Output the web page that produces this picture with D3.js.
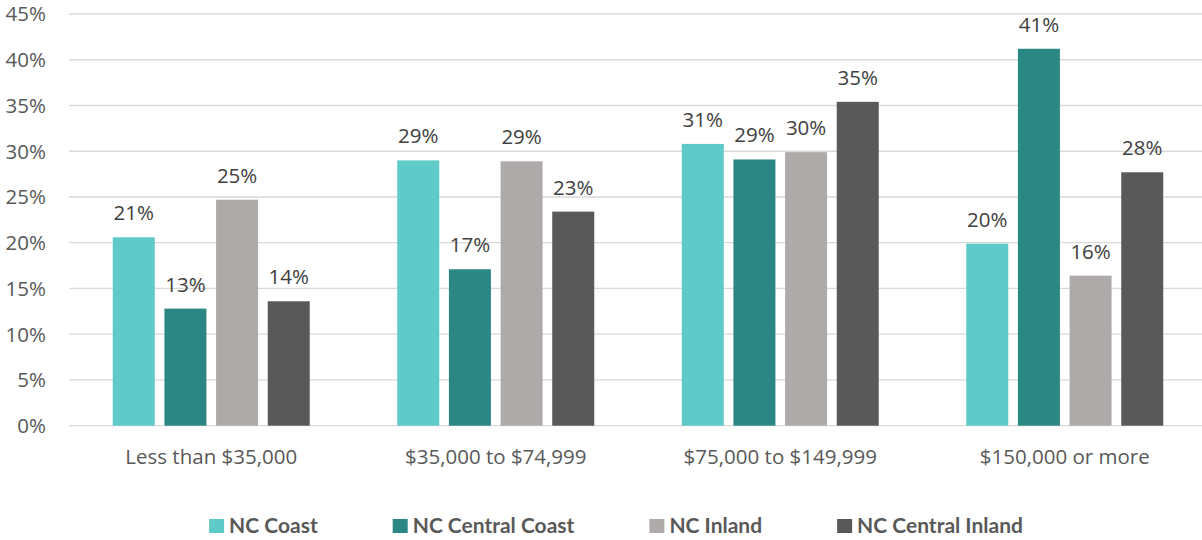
<!DOCTYPE html>
<html>
<head>
<meta charset="utf-8">
<script src="https://cdn.jsdelivr.net/npm/d3@7"></script>
<style>
  body { margin: 0; background: #fff; }
  svg { display: block; font-family: "Open Sans", Lato, sans-serif; }
</style>
</head>
<body>
<div id="chart"></div>
<script>
(function(d3) {
  'use strict';

  var categories = ['Less than $35,000', '$35,000 to $74,999', '$75,000 to $149,999', '$150,000 or more'];
  var seriesNames = ['NC Coast', 'NC Central Coast', 'NC Inland', 'NC Central Inland'];
  var ncCoast = [20.6, 29.0, 30.8, 19.9];
  var ncCentralCoast = [12.8, 17.1, 29.1, 41.2];
  var ncInland = [24.7, 28.9, 29.9, 16.4];
  var ncCentralInland = [13.6, 23.4, 35.4, 27.7];
  var yTicks = [0, 5, 10, 15, 20, 25, 30, 35, 40, 45];

  var colors = ['#5ecbc8', '#2a8783', '#aeaaaa', '#595959'];

  var width = 1202;
  var height = 540;
  var fontSize = '20.5px';

  var values = [ncCoast, ncCentralCoast, ncInland, ncCentralInland];
  var data = categories.map(function(c, i) {
    return {
      label: c,
      bars: seriesNames.map(function(s, j) { return { series: s, value: values[j][i] }; })
    };
  });

  var x0 = d3.scaleBand()
    .domain(categories)
    .range([69, 1207])
    .paddingInner(0.3076)
    .paddingOuter(0.1538);

  var x1 = d3.scaleBand()
    .domain(seriesNames)
    .range([0, x0.bandwidth()])
    .paddingInner(0.187);

  var y = d3.scaleLinear()
    .domain([0, 45])
    .range([425.7, 14]);

  var color = d3.scaleOrdinal()
    .domain(seriesNames)
    .range(colors);

  var svg = d3.select('#chart')
    .append('svg')
    .attr('width', width)
    .attr('height', height);

  // gridlines
  svg.append('g')
    .selectAll('line')
    .data(yTicks)
    .enter().append('line')
      .attr('x1', 69)
      .attr('x2', width)
      .attr('y1', function(d) { return y(d); })
      .attr('y2', function(d) { return y(d); })
      .attr('stroke', '#d9d9d9')
      .attr('stroke-width', 1.3);

  // y axis labels
  svg.append('g')
    .selectAll('text')
    .data(yTicks)
    .enter().append('text')
      .attr('x', 46)
      .attr('y', function(d) { return y(d); })
      .attr('dy', '0.36em')
      .attr('text-anchor', 'end')
      .attr('font-size', fontSize)
      .attr('fill', '#595959')
      .text(function(d) { return d + '%'; });

  var groups = svg.append('g')
    .selectAll('g')
    .data(data)
    .enter().append('g')
      .attr('transform', function(d) { return 'translate(' + x0(d.label) + ',0)'; });

  groups.selectAll('rect')
    .data(function(d) { return d.bars; })
    .enter().append('rect')
      .attr('x', function(d) { return x1(d.series); })
      .attr('y', function(d) { return y(d.value); })
      .attr('width', x1.bandwidth())
      .attr('height', function(d) { return y(0) - y(d.value); })
      .attr('fill', function(d) { return color(d.series); });

  groups.selectAll('text')
    .data(function(d) { return d.bars; })
    .enter().append('text')
      .attr('x', function(d) { return x1(d.series) + x1.bandwidth() / 2; })
      .attr('y', function(d) { return y(d.value) - 17; })
      .attr('text-anchor', 'middle')
      .attr('font-size', fontSize)
      .attr('fill', '#404040')
      .text(function(d) { return Math.round(d.value) + '%'; });

  // category labels
  svg.append('g')
    .selectAll('text')
    .data(categories)
    .enter().append('text')
      .attr('x', function(d) { return x0(d) + x0.bandwidth() / 2; })
      .attr('y', 464)
      .attr('text-anchor', 'middle')
      .attr('font-size', fontSize)
      .attr('fill', '#595959')
      .text(function(d) { return d; });

  // legend
  var legend = svg.append('g');
  var items = legend.selectAll('g')
    .data(seriesNames)
    .enter().append('g');

  items.append('rect')
    .attr('y', 519)
    .attr('width', 15)
    .attr('height', 14)
    .attr('fill', function(d) { return color(d); });

  items.append('text')
    .attr('x', 20)
    .attr('y', 533)
    .attr('font-family', 'Lato, sans-serif')
    .attr('font-size', '21px')
    .attr('font-weight', 'bold')
    .attr('fill', '#595959')
    .text(function(d) { return d; });

  var gap = 75;
  var pos = 0;
  var offsets = [];
  items.each(function() {
    var w = 20 + d3.select(this).select('text').node().getComputedTextLength();
    offsets.push(pos);
    pos += w + gap;
  });
  var total = pos - gap;
  var start = 616 - total / 2;
  items.attr('transform', function(d, i) { return 'translate(' + (start + offsets[i]) + ',0)'; });
})(window.d3);
</script>
</body>
</html>
